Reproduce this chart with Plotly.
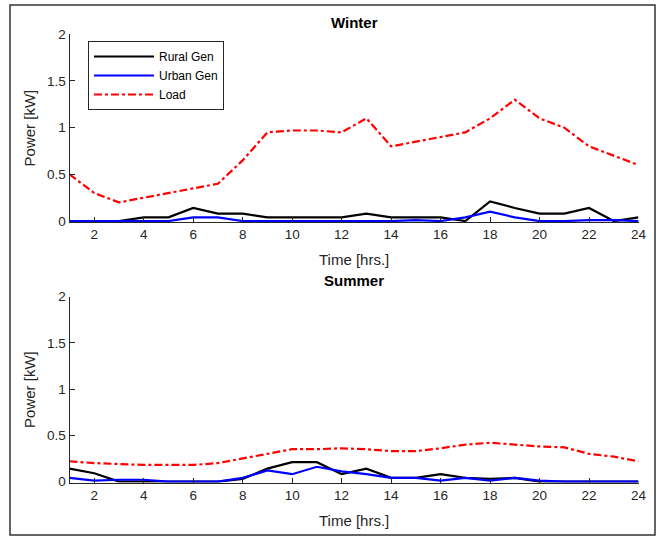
import plotly.graph_objects as go

hours = list(range(1, 25))

winter_rural = [0, 0, 0, 0.04, 0.04, 0.14, 0.08, 0.08, 0.04, 0.04, 0.04, 0.04,
                0.08, 0.04, 0.04, 0.04, 0, 0.21, 0.14, 0.08, 0.08, 0.14, 0, 0.04]
winter_urban = [0, 0, 0, 0, 0, 0.04, 0.04, 0, 0, 0, 0, 0,
                0, 0, 0.01, 0, 0.04, 0.1, 0.04, 0, 0, 0.01, 0.01, 0]
winter_load = [0.5, 0.3, 0.2, 0.25, 0.3, 0.35, 0.4, 0.65, 0.95, 0.97, 0.97, 0.95,
               1.1, 0.8, 0.85, 0.9, 0.95, 1.1, 1.3, 1.1, 1.0, 0.8, 0.7, 0.6]

summer_rural = [0.14, 0.09, 0, 0, 0, 0, 0, 0.03, 0.14, 0.21, 0.21, 0.08,
                0.14, 0.04, 0.04, 0.08, 0.04, 0.03, 0.04, 0, 0, 0, 0, 0]
summer_urban = [0.04, 0.01, 0.02, 0.02, 0, 0, 0, 0.04, 0.12, 0.08, 0.16, 0.11,
                0.08, 0.04, 0.04, 0.01, 0.04, 0.01, 0.04, 0.01, 0, 0, 0, 0]
summer_load = [0.22, 0.2, 0.19, 0.18, 0.18, 0.18, 0.2, 0.25, 0.3, 0.35, 0.35, 0.36,
               0.35, 0.33, 0.33, 0.36, 0.4, 0.42, 0.4, 0.38, 0.37, 0.3, 0.27, 0.22]

x_ticks = list(range(2, 25, 2))
y_ticks = [0, 0.5, 1, 1.5, 2]
y_ticklabels = ["0", "0.5", "1", "1.5", "2"]

W, H = 659, 540
FONT = "Liberation Sans, Arial, Helvetica, sans-serif"
LOAD_DASH = "8px,3px,3px,3px"
TXT = "#262626"

fig = go.Figure()

series = [
    ("Rural Gen", "#000000", "solid"),
    ("Urban Gen", "#0000FF", "solid"),
    ("Load", "#FF0000", LOAD_DASH),
]
winter = [winter_rural, winter_urban, winter_load]
summer = [summer_rural, summer_urban, summer_load]

for (name, color, dash), yv in zip(series, winter):
    fig.add_trace(go.Scatter(x=hours, y=yv, mode="lines", name=name,
                             line=dict(color=color, width=2.2, dash=dash),
                             xaxis="x", yaxis="y", showlegend=True))
for (name, color, dash), yv in zip(series, summer):
    fig.add_trace(go.Scatter(x=hours, y=yv, mode="lines", name=name,
                             line=dict(color=color, width=2.2, dash=dash),
                             xaxis="x2", yaxis="y2", showlegend=False))


def py(p):
    return (H - p) / H


xl, xr = 69.5 / W, 638.5 / W
top_dom = [py(222), py(34.3)]
bot_dom = [py(482.5), py(296.7)]
xc = (xl + xr) / 2

axis_common = dict(showline=True, linecolor=TXT, linewidth=1,
                   ticks="inside", ticklen=5, tickwidth=1, tickcolor=TXT,
                   showgrid=False, zeroline=False, mirror=False, automargin=False,
                   tickfont=dict(family=FONT, size=13.5, color=TXT))

fig.update_layout(
    width=W, height=H,
    margin=dict(l=0, r=0, t=0, b=0, pad=0),
    paper_bgcolor="white", plot_bgcolor="white",
    font=dict(family=FONT, size=13, color=TXT),
    xaxis=dict(domain=[xl, xr], range=[1, 24], tickvals=x_ticks, anchor="y", **axis_common),
    yaxis=dict(domain=top_dom, range=[-0.01, 2], tickvals=y_ticks, ticktext=y_ticklabels,
               anchor="x", **axis_common),
    xaxis2=dict(domain=[xl, xr], range=[1, 24], tickvals=x_ticks, anchor="y2", **axis_common),
    yaxis2=dict(domain=bot_dom, range=[-0.01, 2], tickvals=y_ticks, ticktext=y_ticklabels,
                anchor="x2", **axis_common),
    legend=dict(x=88 / W, y=py(41), xanchor="left", yanchor="top",
                bgcolor="white", bordercolor=TXT, borderwidth=1,
                font=dict(family=FONT, size=12, color="#000000"),
                tracegroupgap=0, itemwidth=60),
    showlegend=True,
    annotations=[
        dict(text="<b>Winter</b>", x=xc, y=py(22.5), xref="paper", yref="paper",
             showarrow=False, font=dict(family=FONT, size=15, color="#000000"),
             xanchor="center", yanchor="middle"),
        dict(text="<b>Summer</b>", x=xc, y=py(280), xref="paper", yref="paper",
             showarrow=False, font=dict(family=FONT, size=15, color="#000000"),
             xanchor="center", yanchor="middle"),
        dict(text="Time [hrs.]", x=xc, y=py(259.5), xref="paper", yref="paper",
             showarrow=False, font=dict(family=FONT, size=15, color=TXT),
             xanchor="center", yanchor="middle"),
        dict(text="Time [hrs.]", x=xc, y=py(520), xref="paper", yref="paper",
             showarrow=False, font=dict(family=FONT, size=15, color=TXT),
             xanchor="center", yanchor="middle"),
        dict(text="Power [kW]", x=29.3 / W, y=(top_dom[0] + top_dom[1]) / 2,
             xref="paper", yref="paper", textangle=-90,
             showarrow=False, font=dict(family=FONT, size=15, color=TXT),
             xanchor="center", yanchor="middle"),
        dict(text="Power [kW]", x=29.3 / W, y=(bot_dom[0] + bot_dom[1]) / 2,
             xref="paper", yref="paper", textangle=-90,
             showarrow=False, font=dict(family=FONT, size=15, color=TXT),
             xanchor="center", yanchor="middle"),
    ],
    shapes=[
        dict(type="rect", xref="paper", yref="paper",
             x0=10 / W, x1=655 / W, y0=py(535), y1=py(5),
             line=dict(color="#333333", width=1.5), fillcolor="rgba(0,0,0,0)"),
    ],
)

fig.write_html("out.html",
               config={"displayModeBar": False, "staticPlot": True},
               post_script="document.body.style.margin='0';document.body.style.overflow='hidden';")
